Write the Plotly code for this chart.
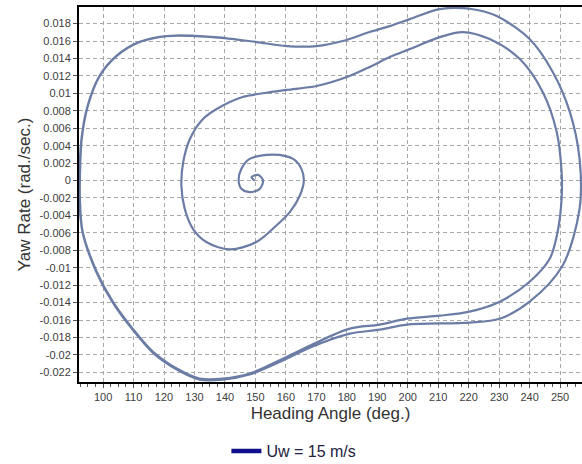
import plotly.graph_objects as go

# Trajectory: heading angle (deg) and yaw rate (rad/s)
heading = [149.8, 148.7, 150.9, 152.5, 151.4, 148.1, 145.4, 144.5, 145.4, 148.1,
           155.8, 162.4, 165.1, 165.9, 164.6, 161.3, 156.9, 150.3, 141.6, 133.9,
           129.5, 126.8, 125.7, 126.3, 128.5, 132.8, 137.3, 145.8, 153.1, 160.3,
           170.1, 180.0, 187.5, 194.1, 200.7, 210.5, 218.0, 226.9, 236.8, 244.3,
           248.9, 250.5, 250.5, 249.2, 246.6, 240.0, 230.2, 220.3, 210.5, 199.7,
           190.8, 181.0, 167.8, 159.0, 148.1, 139.3, 131.7, 124.2, 116.3, 109.7,
           103.2, 97.9, 93.3, 92.4, 92.4, 93.0, 95.0, 98.9, 104.5, 112.0,
           120.9, 130.1, 139.9, 150.4, 160.3, 170.1, 178.7, 187.5, 194.1, 200.7,
           210.5, 220.3, 229.2, 240.0, 247.6, 253.2, 256.4, 256.4, 250.8, 240.0,
           230.2, 220.3, 199.7, 190.8, 181.0, 167.8, 159.0, 148.1, 139.3, 131.7,
           124.2, 116.3, 109.7, 103.2, 97.9, 93.3, 92.2, 92.2, 92.9, 94.9,
           98.8, 104.3, 111.8, 120.7, 130.1, 139.9]
yaw_rate = [0.0, 0.00039, 0.00065, 0.0, -0.00095, -0.00133, -0.00095, 0.0, 0.00134, 0.00248,
            0.00298, 0.00248, 0.00134, 0.0, -0.00172, -0.00362, -0.00515, -0.00705, -0.0079, -0.00705,
            -0.00553, -0.00324, -0.00057, 0.00211, 0.00477, 0.00706, 0.00821, 0.00958, 0.01004, 0.01039,
            0.01084, 0.01187, 0.01302, 0.01416, 0.01508, 0.01645, 0.01703, 0.01622, 0.01393, 0.01016,
            0.00558, 0.001, -0.0021, -0.00587, -0.00897, -0.0116, -0.01389, -0.01503, -0.01549, -0.01584,
            -0.01652, -0.01698, -0.01893, -0.02042, -0.02213, -0.02271, -0.02271, -0.02156, -0.01961, -0.01698,
            -0.01389, -0.01045, -0.00587, -0.0021, 0.0002, 0.00477, 0.00855, 0.01199, 0.01428, 0.01588,
            0.01657, 0.01657, 0.01634, 0.01588, 0.01542, 0.01542, 0.016, 0.01703, 0.01771, 0.01851,
            0.01966, 0.0197, 0.01886, 0.01622, 0.01245, 0.00787, 0.00248, -0.00324, -0.00977, -0.01389,
            -0.01584, -0.01629, -0.01652, -0.0171, -0.01755, -0.01916, -0.02064, -0.02224, -0.02282, -0.02282,
            -0.02167, -0.01973, -0.0171, -0.014, -0.01057, -0.00599, -0.0021, 0.0002, 0.00477, 0.00855,
            0.01199, 0.01428, 0.01588, 0.01657, 0.0166, 0.01637]

series_name = "Uw = 15 m/s"

x_ticks = list(range(100, 251, 10))
x_tick_text = [str(v) for v in x_ticks]
y_ticks = [round(0.018 - 0.002 * i, 3) for i in range(21)]
y_tick_text = ["0.018", "0.016", "0.014", "0.012", "0.01", "0.008", "0.006", "0.004",
               "0.002", "0", "-0.002", "-0.004", "-0.006", "-0.008", "-0.01", "-0.012",
               "-0.014", "-0.016", "-0.018", "-0.02", "-0.022"]

FONT = "Liberation Sans, Arial, sans-serif"

fig = go.Figure()
fig.add_trace(go.Scatter(
    x=heading, y=yaw_rate, mode="lines",
    line=dict(color="#6b7ca5", width=2.2, shape="spline", smoothing=0.9),
    showlegend=False, hoverinfo="skip",
))
fig.add_trace(go.Scatter(
    x=[None], y=[None], mode="lines", name=series_name,
    line=dict(color="#10108c", width=4.5),
    showlegend=True,
))

axis_common = dict(
    showline=True, linecolor="black", linewidth=2,
    showgrid=True, gridcolor="#a8a8a8", gridwidth=1, griddash="4px,3px",
    zeroline=False,
    ticks="outside", ticklen=4, tickcolor="#555", tickwidth=1,
    tickfont=dict(family=FONT, size=11, color="#404040"),
)

fig.update_layout(
    width=582, height=464,
    margin=dict(l=79, r=0, t=7, b=82),
    paper_bgcolor="white", plot_bgcolor="white",
    font=dict(family=FONT, color="#333"),
    xaxis=dict(
        range=[92.1, 257.2], tickmode="array", tickvals=x_ticks, ticktext=x_tick_text,
        mirror=True,
        minor=dict(dtick=2.5, ticks="outside", ticklen=3, tickcolor="#555", showgrid=False),
        title=dict(text="Heading Angle (deg.)", font=dict(family=FONT, size=17, color="#333"), standoff=5),
        **axis_common,
    ),
    yaxis=dict(
        range=[-0.0231, 0.0199], tickmode="array", tickvals=y_ticks, ticktext=y_tick_text,
        title=dict(text="Yaw Rate (rad./sec.)", font=dict(family=FONT, size=17, color="#333"), standoff=5),
        **axis_common,
    ),
    legend=dict(
        orientation="h", x=0.505, xanchor="center", xref="container",
        y=0.028, yanchor="middle", yref="container",
        font=dict(family=FONT, size=16, color="#222240"),
        bgcolor="rgba(0,0,0,0)",
    ),
    showlegend=True,
)

fig.write_html("out.html")
